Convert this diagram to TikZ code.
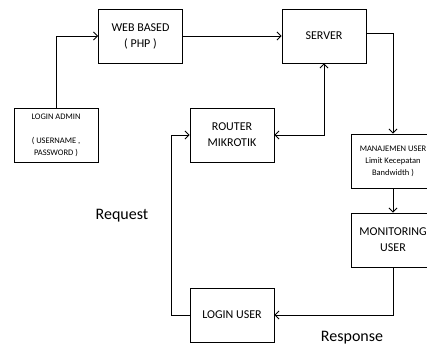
\documentclass[tikz,border=0pt]{standalone}
\usepackage{fontspec}
\setmainfont{Carlito}
\usetikzlibrary{arrows.meta, positioning}

\begin{document}
\begin{tikzpicture} [
    x=1pt, y=-1pt,
    box/.style = {draw, line width=0.9pt,
        minimum width=84pt, minimum height=54pt,
        align=center, inner sep=1pt,
        font=\fontsize{12}{16}\selectfont},
    smallbox/.style = {box, font=\fontsize{8.5}{12}\selectfont},
    flow/.style = {line width=0.9pt,
        -{Straight Barb[length=4pt,width=8pt]}},
    twoway/.style = {line width=0.9pt,
        {Straight Barb[length=4pt,width=8pt]}-{Straight Barb[length=4pt,width=8pt]}},
    flowtext/.style = {anchor=base, inner sep=0pt,
        font=\fontsize{16}{19}\selectfont}]
    % \draw [help lines] (0,0) grid [step=20] (427,347);
    \clip (0,0) rectangle (427,347);
    \node (web) [box] at (140.5,36) {WEB BASED\\( PHP )};
    \node (server) [box] at (324,36) {SERVER};
    \node (admin) [smallbox] at (56,135)
        {LOGIN ADMIN\\[12pt]( USERNAME ,\\PASSWORD )};
    \node (router) [box] at (232,135) {ROUTER\\MIKROTIK};
    \node (manajemen) [smallbox] at (393,161)
        {MANAJEMEN USER\\Limit Kecepatan\\Bandwidth )};
    \node (monitoring) [box] at (393,240) {MONITORING\\USER};
    \node (loginuser) [box] at (232,315) {LOGIN USER};

    \node (request) [flowtext] at (122,219) {Request};
    \node (response) [flowtext] at (352,341) {Response};

    \draw [flow] (admin.north) |- (web.west);
    \draw [flow] (web) -- (server);
    \draw [flow] ([yshift=3pt]server.east) -| (manajemen.north);
    \draw [twoway] (router.east) -| (server.south);
    \draw [flow] (manajemen) -- (monitoring);
    \draw [flow] (monitoring.south) |- (loginuser.east);
    \draw [flow] (loginuser.west) -- ++(-18,0) |- (router.west);
\end{tikzpicture}
\end{document}
